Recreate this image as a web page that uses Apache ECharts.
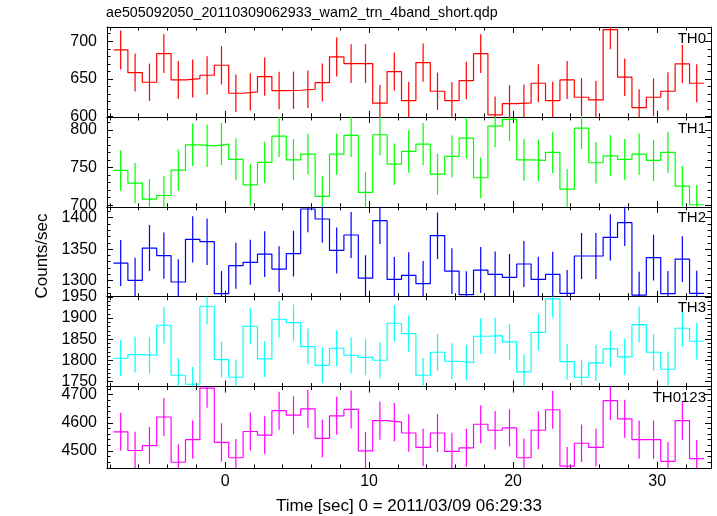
<!DOCTYPE html>
<html><head><meta charset="utf-8">
<script src="https://cdn.jsdelivr.net/npm/echarts@6/dist/echarts.min.js"></script>
<style>html,body{margin:0;padding:0;background:#fff}#c{width:717px;height:516px}</style>
</head><body><div id="c"></div>
<script>
// ---- data ----
const titleText = 'ae505092050_20110309062933_wam2_trn_4band_short.qdp';
const xTitle = 'Time [sec] 0 = 2011/03/09 06:29:33';
const yTitle = 'Counts/sec';
const panelNames = ['TH0', 'TH1', 'TH2', 'TH3', 'TH0123'];
const binWidth = 1;
const time = [-7.25,-6.25,-5.25,-4.25,-3.25,-2.25,-1.25,-0.25,0.75,1.75,2.75,3.75,4.75,5.75,6.75,7.75,8.75,9.75,10.75,11.75,12.75,13.75,14.75,15.75,16.75,17.75,18.75,19.75,20.75,21.75,22.75,23.75,24.75,25.75,26.75,27.75,28.75,29.75,30.75,31.75,32.75];
const th0 = [688.5,658.4,645.5,683.6,648.6,650.4,654.8,668.1,630.9,632.7, 653.1,634.5,634.9,636.2,645.1,679.2,670.3,670.3,617.7,659.7, 621.2,671.7,633.6,621.2,647.8,683.6,602.2,617.2,618.1,644.2, 621.2,648.6,625.6,622.1,715.5,652.2,611.9,625.6,633.6,669.9, 644.2];
const th0Err = [25.9,25.2,24.8,25.7,25,25.2,25.4,25.4,24.8,24.8, 25.4,24.8,24.8,25,25.2,25.9,25.7,25.7,24.3,25.2, 24.8,25.4,24.8,24.8,25,25.7,24.3,24.4,24.4,25.2, 25,25.2,25.4,25.2,26.1,25,24.4,25,25.2,25.4, 25.2];
const th1 = [746.2,729.4,708.2,713.0,746.6,780.2,778.9,781.1,760.8,727.2, 756.8,791.7,760.3,767.9,711.7,767.9,792.6,717.0,793.5,754.6, 771.4,781.1,741.3,764.8,789.1,736.5,805.0,813.8,760.3,759.5, 770.1,721.4,802.3,756.4,765.6,760.8,767.9,759.5,770.1,725.4, 700.7];
const th1Err = [26.8,26.8,26.3,26.3,27.4,28.1,28.1,27.9,27.7,27.4, 27.4,27.7,27.2,27.2,26.8,27.4,28.5,26.8,27.2,27.4, 28.1,27.9,27.2,27.9,27.2,27,28.1,28.5,27.7,27.7, 27.4,26.3,27.7,27.4,27.2,27.2,27.4,27.4,27.4,26.8, 26.3];
const th2 = [1327.9,1300.4,1351.7,1339.6,1297.8,1365.5,1361.8,1279.3,1323.7,1329.0, 1342.2,1318.4,1342.8,1413.7,1397.8,1348.0,1372.4,1304.1,1395.1,1302.0, 1308.4,1295.1,1371.3,1315.2,1277.7,1316.8,1309.9,1305.2,1326.4,1302.0, 1309.9,1279.8,1339.1,1339.1,1368.7,1392.0,1277.1,1336.4,1279.3,1334.3, 1279.8];
const th2Err = [36.5,36,36.5,36.7,36,36.7,37,36,36.5,35.7, 36.3,36.3,36.3,37,37.6,36.5,36.5,36,37,35.4, 36.5,36,37,36.3,37,36.5,36.3,37,36.5,36, 36,37,36.5,36.5,36.7,37,37,36.3,36,36.3, 36];
const th3 = [1805.0,1813.6,1812.1,1883.0,1764.8,1743.5,1927.9,1801.8,1760.1,1880.6, 1803.4,1897.2,1889.3,1832.6,1788.4,1828.6,1812.1,1807.3,1800.3,1887.7, 1863.3,1764.8,1819.2,1797.9,1794.7,1857.0,1858.6,1843.6,1772.7,1866.4, 1945.2,1797.1,1760.1,1793.9,1827.0,1808.1,1884.6,1819.2,1779.0,1875.9, 1845.2];
const th3Err = [42.5,42.2,42.5,43,40.9,40.9,43.3,42.2,41.7,43, 42.5,43,43,42.5,42.5,42.5,42.5,42.5,42.5,43.3, 43,40.9,43,42.5,42.5,42.5,42.2,42.5,41.7,43.3, 43.3,42.2,41.7,42.5,42.5,43,42.2,43,41.7,43, 43];
const th0123 = [4568.1,4501.7,4518.8,4620.6,4459.9,4540.2,4723.5,4530.6,4475.9,4569.2, 4556.3,4643.1,4627.1,4649.6,4544.5,4624.9,4647.4,4500.6,4607.8,4602.4, 4563.8,4512.4,4563.8,4498.4,4511.3,4594.9,4573.5,4582.0,4475.9,4573.5, 4646.4,4445.9,4527.4,4512.4,4678.5,4614.2,4540.2,4540.2,4463.1,4607.8, 4472.7];
const th0123Err = [67.6,66.4,65.9,67.6,64.3,67.6,69.6,67.6,66.4,67.6, 66.9,67.6,67.6,68,66.9,67.6,67.6,66.4,67.6,68, 66.9,66.9,67.6,66.4,67.6,67.6,68,66.4,67.6,67.6, 67.6,68.5,66.9,66.4,68.5,67.6,67.6,67.6,67.6,67.6, 66.4];
const xTicks = [0, 10, 20, 30];
const yTicks0 = [600, 650, 700];
const yTicks1 = [700, 750, 800];
const yTicks2 = [1300, 1350, 1400];
const yTicks3 = [1750, 1800, 1850, 1900, 1950];
const yTicks4 = [4500, 4600, 4700];

// ---- layout / style ----
const FONT = '"Liberation Sans", Arial, Helvetica, sans-serif';
const X_MIN = -8.2, X_MAX = 33.74, X_MINOR = 2;
const GRID_LEFT = 107, GRID_RIGHT = 6, GRID_TOP = 27, GRID_H = 89.9;
const panels = [
  {vals: th0, errs: th0Err, ticks: yTicks0, range: [599.5, 718.9], minor: 10, color: '#ff0000'},
  {vals: th1, errs: th1Err, ticks: yTicks1, range: [698, 817.2], minor: 10, color: '#00ff00'},
  {vals: th2, errs: th2Err, ticks: yTicks2, range: [1274.5, 1417.2], minor: 10, color: '#0000ff'},
  {vals: th3, errs: th3Err, ticks: yTicks3, range: [1738, 1950.5], minor: 10, color: '#00ffff'},
  {vals: th0123, errs: th0123Err, ticks: yTicks4, range: [4439.5, 4728.6], minor: 20, color: '#ff00ff'}
];

function stepList(min, max, step) {
  const out = [];
  for (let v = Math.ceil(min / step) * step; v <= max + 1e-9; v += step) out.push(+v.toFixed(6));
  return out;
}
const xMinor = stepList(X_MIN, X_MAX, X_MINOR);
const plain = v => String(v);

const grid = [], xAxis = [], yAxis = [], series = [], title = [];
title.push({text: titleText, left: GRID_LEFT - 1, top: 6, padding: 0,
  textStyle: {fontFamily: FONT, fontSize: 14.3, fontWeight: 'normal', color: '#000'}});

panels.forEach((p, i) => {
  const top = GRID_TOP + i * GRID_H;
  grid.push({left: GRID_LEFT, right: GRID_RIGHT, top: top, height: GRID_H, containLabel: false});
  const last = i === panels.length - 1;
  ['bottom', 'top'].forEach(pos => {
    [true, false].forEach(major => {
      xAxis.push({
        type: 'value', gridIndex: i, min: X_MIN, max: X_MAX, position: pos, offset: 0,
        axisLine: {show: major, onZero: false, lineStyle: {color: '#000', width: 1}},
        axisTick: {show: true, inside: true, length: major ? 6 : 3.5, customValues: major ? xTicks : xMinor,
          lineStyle: {color: '#000', width: 1}},
        axisLabel: {show: major && pos === 'bottom' && last, customValues: xTicks, margin: 6,
          formatter: plain, fontFamily: FONT, fontSize: 16, color: '#000'},
        splitLine: {show: false},
        name: (major && pos === 'bottom' && last) ? xTitle : '',
        nameLocation: 'middle', nameGap: 30,
        nameTextStyle: {fontFamily: FONT, fontSize: 17, color: '#000'}
      });
    });
  });
  const yMinor = stepList(p.range[0], p.range[1], p.minor);
  ['left', 'right'].forEach(pos => {
    [true, false].forEach(major => {
      yAxis.push({
        type: 'value', gridIndex: i, min: p.range[0], max: p.range[1], position: pos, offset: 0,
        axisLine: {show: major, onZero: false, lineStyle: {color: '#000', width: 1}},
        axisTick: {show: true, inside: true, length: major ? 6 : 3.5, customValues: major ? p.ticks : yMinor,
          lineStyle: {color: '#000', width: 1}},
        axisLabel: {show: major && pos === 'left', customValues: p.ticks, margin: 10,
          formatter: plain, fontFamily: FONT, fontSize: 16, color: '#000'},
        splitLine: {show: false}
      });
    });
  });
  title.push({text: panelNames[i], right: 717 - 706, top: top + 4, padding: 0,
    textStyle: {fontFamily: FONT, fontSize: 15, fontWeight: 'normal', color: '#000'}});

  // step histogram: left edge of each bin, plus final right edge
  const stepData = time.map((t, k) => [t - binWidth / 2, p.vals[k]]);
  stepData.push([time[time.length - 1] + binWidth / 2, p.vals[p.vals.length - 1]]);
  series.push({
    type: 'line', xAxisIndex: i * 4, yAxisIndex: i * 4, step: 'end', data: stepData,
    showSymbol: false, symbol: 'none', clip: true, animation: false,
    lineStyle: {color: p.color, width: 1.2}
  });
  series.push({
    type: 'custom', xAxisIndex: i * 4, yAxisIndex: i * 4, clip: true, animation: false,
    data: time.map((t, k) => [t, p.vals[k], p.errs[k]]),
    renderItem: (params, api) => {
      const x = api.value(0), v = api.value(1), e = api.value(2);
      const a = api.coord([x, v + e]), b = api.coord([x, v - e]);
      return {type: 'line', shape: {x1: a[0], y1: a[1], x2: b[0], y2: b[1]},
        style: {stroke: p.color, lineWidth: 1.2}};
    }
  });
});

const graphic = [{type: 'text', x: 42, y: 256, rotation: Math.PI / 2,
  style: {text: yTitle, font: '17px ' + FONT, fill: '#000', align: 'center', verticalAlign: 'middle'}}];

const chart = echarts.init(document.getElementById('c'), null, {renderer: 'canvas'});
chart.setOption({backgroundColor: '#fff', animation: false, title, grid, xAxis, yAxis, series, graphic});
</script></body></html>
